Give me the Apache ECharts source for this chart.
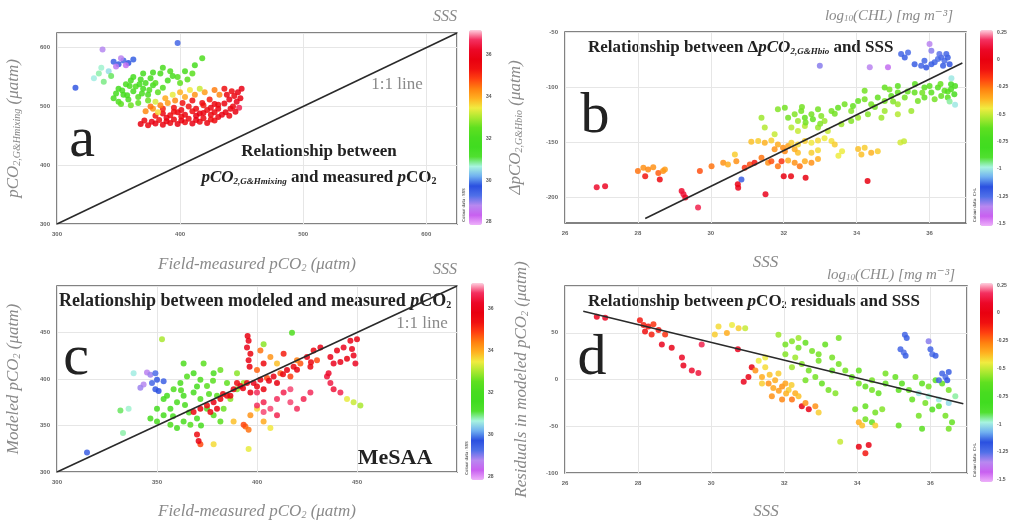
<!DOCTYPE html>
<html>
<head>
<meta charset="utf-8">
<script src="https://cdn.jsdelivr.net/npm/echarts@6/dist/echarts.min.js"></script>
<style>
  html, body { margin: 0; padding: 0; background: #fff; }
  #chart { width: 1012px; height: 521px; }
</style>
</head>
<body>
<div id="chart"></div>
<script>
// ---- data ----
// panel a: [field pCO2, G&H mixing pCO2, SSS]
const aPoints = [
  [368,470,35.8],[374,468,35.6],[380,471,35.9],[386,469,35.7],[392,472,35.6],[398,470,35.8],[404,473,35.5],[410,471,35.9],[416,474,35.6],[422,472,35.7],[428,476,35.5],
  [371,476,35.6],[377,474,35.9],[383,477,35.4],[389,475,35.7],[395,478,35.6],[401,476,35.8],[407,479,35.5],[413,477,35.7],[419,480,35.6],[425,478,35.4],[431,482,35.7],
  [380,484,35.3],[386,488,35.6],[392,485,35.5],[398,490,35.7],[404,486,35.6],[410,492,35.4],[416,488,35.8],[422,494,35.5],[428,490,35.6],[434,486,35.9],
  [386,496,35.2],[395,498,35.4],[401,494,35.6],[407,500,35.3],[413,496,35.5],[419,502,35.2],[425,498,35.6],[431,496,35.7],[437,490,35.8],[440,484,35.6],
  [436,505,35.7],[440,512,35.9],[444,518,35.6],[447,524,35.8],[442,526,35.5],[438,520,35.7],[446,508,36.0],[449,514,35.8],[443,500,35.6],[448,498,36.6],[450,530,35.9],[436,530,35.4],[441,496,35.7],
  [402,506,35.3],[410,510,35.4],[418,506,35.5],[424,512,35.2],[428,504,35.6],
  [389,481,35.7],[401,483,35.5],[413,484,35.8],[425,486,35.6],[395,491,35.4],[419,489,35.7],[431,503,35.5],[445,491,35.8],
  [372,492,34.3],[378,496,34.2],[384,502,34.4],[390,506,34.1],[396,510,34.3],[404,516,34.0],[412,520,34.2],[420,524,34.1],[428,528,34.4],[432,520,34.3],[388,514,34.0],[376,500,34.5],[400,524,33.9],
  [380,508,33.3],[394,520,33.4],[416,530,33.2],[408,528,33.5],[382,490,33.6],
  [346,514,32.0],[350,508,32.2],[354,520,31.9],[358,512,32.1],[362,526,32.0],[366,516,32.3],[370,530,31.8],[374,520,32.1],[378,536,32.0],[382,524,32.4],
  [350,530,31.9],[356,538,32.1],[360,544,32.0],[364,534,32.2],[368,546,31.9],[372,540,32.0],[376,548,32.1],[380,540,32.3],[386,532,32.2],[390,544,32.0],[394,552,32.1],
  [348,522,32.0],[352,504,32.4],[360,502,32.6],[366,506,32.5],[374,510,32.6],[362,550,31.9],[370,556,32.0],[384,556,32.1],[392,560,32.2],[398,550,32.3],
  [404,560,32.1],[410,556,32.4],[412,570,32.0],[418,582,32.2],[400,540,32.5],[406,546,32.4],[378,558,32.0],[386,566,32.1],
  [353,527,32.0],[359,535,32.1],[367,538,31.9],[375,528,32.2],[357,519,32.0],[369,522,32.1],
  [330,548,30.6],[334,556,30.8],[338,542,30.9],[342,560,30.5],[336,566,30.7],[344,552,31.0],
  [350,572,29.6],[354,578,29.4],[358,574,29.7],[346,576,29.5],[362,580,29.8],
  [348,568,28.6],[352,582,28.7],[356,570,28.5],
  [315,532,29.6],[398,608,29.4],[337,597,28.8]
];

// panel b: [SSS, delta pCO2 bio, log10 CHL]
const bPoints = [
  [26.87,-190.6,0.1],[27.1,-189.7,0.08],
  [28.0,-176,-0.25],[28.15,-173,-0.3],[28.28,-174.5,-0.28],[28.42,-172.4,-0.3],[28.56,-177.6,-0.22],[28.69,-176,-0.3],[28.74,-174.5,-0.32],[28.2,-180.6,-0.1],[28.6,-183.6,-0.05],
  [29.2,-194,0.1],[29.25,-197,0.12],[29.3,-200,0.08],[29.65,-209,0.15],
  [29.7,-176,-0.2],[30.02,-171.5,-0.25],[30.34,-168.5,-0.3],[30.47,-170,-0.35],[30.66,-160.9,-0.4],[30.7,-167,-0.3],[30.93,-173,-0.15],[31.07,-170,-0.2],[31.2,-168.5,-0.1],
  [31.39,-164,-0.25],[31.57,-168.5,-0.3],[31.66,-167,-0.2],[31.84,-171.5,-0.25],[31.94,-167,-0.15],[32.12,-166.4,-0.35],[32.3,-168.5,-0.3],[32.44,-171.5,-0.25],
  [32.58,-167,-0.35],[32.76,-168.5,-0.3],[32.94,-165,-0.35],[32.76,-159.4,-0.4],[32.39,-159.4,-0.38],[32.94,-157,-0.42],
  [30.75,-191,0.05],[30.74,-188,0.02],[31.5,-197,0.05],[32.0,-180.6,0.0],[32.2,-180.6,-0.02],[32.6,-182,0.0],[34.3,-185,0.0],
  [30.84,-183.6,-1.2],
  [31.11,-149.4,-0.38],[31.3,-148.8,-0.4],[31.48,-150.3,-0.36],[31.66,-148.2,-0.4],[31.84,-151.8,-0.35],[31.98,-154.8,-0.3],[32.12,-153.3,-0.33],[32.21,-150.3,-0.4],
  [32.39,-151.8,-0.42],[32.58,-148.8,-0.4],[32.76,-150.3,-0.44],[32.94,-148.2,-0.42],[33.12,-146.3,-0.45],[33.31,-148.8,-0.43],[33.4,-151.8,-0.4],
  [31.75,-156.3,-0.3],[32.03,-157.9,-0.28],[32.3,-156.3,-0.35],
  [34.04,-156,-0.38],[34.22,-154.8,-0.4],[34.4,-159.4,-0.36],[34.58,-157.9,-0.4],[34.13,-160.9,-0.38],
  [33.5,-162,-0.45],[33.6,-158,-0.45],[35.2,-150,-0.48],[35.3,-149,-0.5],
  [32.12,-127.6,-0.6],[32.3,-124.5,-0.58],[32.39,-130.6,-0.55],[32.48,-121.5,-0.6],[32.58,-127.6,-0.62],[32.76,-124.5,-0.6],[32.94,-120,-0.6],[33.03,-126,-0.58],
  [33.12,-130.6,-0.55],[33.31,-121.5,-0.6],[33.49,-118.5,-0.62],[33.67,-115.4,-0.6],[33.85,-121.5,-0.58],[34.04,-112.4,-0.62],[34.22,-110.9,-0.6],[34.4,-115.4,-0.6],
  [34.58,-109.4,-0.62],[34.77,-112.4,-0.6],[34.95,-107.9,-0.64],[35.13,-104.8,-0.62],[32.21,-136.6,-0.52],[32.39,-139.7,-0.5],[32.58,-135.1,-0.52],[32.94,-136.6,-0.55],
  [33.21,-139.7,-0.5],[33.58,-133.6,-0.55],[33.85,-130.6,-0.58],[34.04,-127.6,-0.55],[34.31,-124.5,-0.58],[34.68,-127.6,-0.55],[35.13,-124.5,-0.52],[35.5,-121.5,-0.55],
  [35.68,-112.4,-0.6],[35.86,-109.4,-0.62],[36.05,-104.8,-0.64],[36.23,-100.3,-0.66],[36.41,-103.3,-0.64],[36.59,-101.8,-0.7],[36.32,-107.9,-0.62],[36.14,-110.9,-0.6],
  [36.5,-109.4,-0.65],[36.68,-106.3,-0.72],[35.32,-109.4,-0.6],[35.59,-104.8,-0.62],[35.86,-100.3,-0.65],[35.13,-98.8,-0.64],[34.77,-100.3,-0.62],[34.22,-103.3,-0.6],
  [31.75,-142.7,-0.5],[31.48,-136.6,-0.52],[31.39,-127.6,-0.55],[31.84,-120,-0.58],[32.03,-118.5,-0.6],[36.59,-97.3,-0.75],[35.13,-115.4,-0.55],[34.77,-121.5,-0.55],
  [32.6,-132,-0.6],[32.8,-129,-0.62],[33.0,-133,-0.58],[32.5,-118,-0.6],[33.4,-124,-0.6],[33.9,-117,-0.62],[34.5,-118,-0.6],[35.0,-113,-0.58],
  [35.4,-104,-0.62],[35.8,-105,-0.6],[36.0,-99,-0.64],[36.3,-97,-0.62],[36.5,-104,-0.66],[36.7,-99,-0.7],[35.6,-97,-0.65],[34.9,-102,-0.6],
  [36.55,-113,-0.95],[36.7,-116,-1.0],[36.6,-92,-1.0],
  [35.22,-70,-1.22],[35.32,-73,-1.2],[35.41,-68.5,-1.24],[35.59,-79.1,-1.2],[35.77,-80.6,-1.22],[35.91,-82.1,-1.18],[36.0,-60.9,-1.35],[36.05,-67,-1.3],
  [36.14,-77.5,-1.22],[36.23,-74.5,-1.25],[36.32,-73,-1.22],[36.41,-76,-1.24],[36.5,-73,-1.2],[36.27,-70,-1.26],[36.46,-70,-1.22],[36.37,-80.6,-1.2],
  [36.55,-79.1,-1.18],[36.05,-79.1,-1.2],[35.86,-76,-1.22],
  [32.99,-80.6,-1.3],[34.36,-82,-1.35],[34.86,-82,-1.4]
];

// panel c: [field pCO2, modeled pCO2, SSS]
const cPoints = [
  [315,321,29.5],[333,342,30.8],[331.7,366,31.0],[335.8,368,30.7],
  [345,406.9,28.7],[346.7,404.5,28.9],[349.2,406.3,29.3],[350,399.3,29.6],[353.3,397.6,29.5],[343.3,394.1,28.8],[347.5,395.8,29.4],[349.2,388.9,29.6],[350.8,387.2,29.7],[341.7,390.6,28.9],[338.3,406.3,30.6],
  [352.5,442.7,33.0],
  [346.7,357.6,32.0],[350,354.2,32.1],[353.3,361.1,31.9],[356.7,350.7,32.2],[360,347.2,32.0],[363.3,354.2,32.1],[366.7,350.7,32.3],[370,357.6,32.0],
  [356.7,368.1,31.9],[360,375,32.1],[363.3,381.9,32.0],[358.3,388.9,32.2],[361.7,395.8,32.1],[365,402.8,32.3],[368.3,406.3,32.0],[371.7,399.3,32.2],
  [375,392.4,32.4],[378.3,406.3,32.1],[381.7,409.7,32.6],[368.3,385.4,32.0],[371.7,378.5,32.2],[375,368.1,32.1],[378.3,361.1,32.3],[381.7,354.2,32.4],
  [383.3,368.1,32.6],[386.7,378.5,32.8],[390,388.9,32.7],[393.3,395.8,32.9],[363.3,416.7,32.2],[373.3,416.7,32.4],[390,406.3,32.8],[355,381.9,32.0],
  [350,368.1,31.8],[353.3,378.5,31.9],[380,381.9,32.3],[385,395.8,32.5],
  [358,360,32.0],[366,364,32.1],[362,388,32.2],[370,392,32.0],[376,384,32.3],[364,372,32.1],[372,350,32.0],[378,398,32.4],
  [417.5,449.7,32.2],[403.3,437.5,32.8],
  [388.3,354.2,33.8],[396.7,361.1,34.2],[400,368.1,33.6],[403.3,354.2,34.0],[406.7,347.2,33.5],[394.2,349,34.6],[395.8,345.5,34.5],[393.3,350.7,34.8],
  [368.3,364.6,35.6],[371.7,368.1,35.8],[375,371.5,35.5],[378.3,375,35.9],[381.7,378.5,35.7],[385,381.9,35.6],[388.3,388.9,35.8],[391.7,392.4,35.9],
  [395,395.8,35.7],[398.3,395.8,36.0],[401.7,399.3,35.8],[405,401,34.8],[408.3,402.8,35.9],[411.7,406.3,34.6],[415,409.7,35.8],[418.3,413.2,35.6],
  [421.7,416.7,34.7],[425,423.6,35.9],[428.3,430.6,35.7],[431.7,434,36.0],[430,420.1,34.8],[426.7,413.2,35.6],[416.7,402.8,34.9],[410,395.8,35.8],
  [403.3,388.9,35.7],[396.7,385.4,35.9],[390,395.8,35.5],[386.7,381.9,35.7],[380,368.1,35.8],[376.7,364.6,35.6],
  [393,390,35.8],[400,392,35.6],[406,398,35.9],[413,405,35.7],[420,410,35.8],[427,418,35.6],[383,384,35.7],
  [395.3,446.2,35.8],[395.8,441,35.9],[395,434,36.0],[396.7,427.1,35.7],[395.8,420.1,35.9],[396.3,413.2,35.8],
  [401.7,430.6,34.5],[406.7,423.6,34.2],[410,416.7,33.8],[400,409.7,34.6],[413.3,427.1,35.2],[420,420.1,34.4],[403.3,416.7,35.5],
  [400,385.4,36.7],[403.3,375,36.6],[406.7,368.1,36.8],[410,378.5,36.7],[413.3,385.4,36.6],[416.7,375,36.8],[420,368.1,36.7],[423.3,378.5,36.6],
  [426.7,385.4,36.7],[403.3,364.6,36.8],[410,361.1,36.6],[400,371.5,36.7],[416.7,388.9,36.8],
  [436.7,423.6,36.0],[440,430.6,35.9],[443.3,434,36.1],[446.7,441,36.0],[450,442.7,35.9],[438.3,416.7,36.1],[441.7,418.4,36.0],[445,421.9,35.8],
  [448.3,425.3,36.0],[449.2,416.7,36.2],[447.5,432.3,36.0],
  [435,402.8,36.4],[436.7,395.8,36.5],[438.3,388.9,36.4],[441.7,385.4,36.6],[435.8,406.3,36.3],
  [445,378.5,33.4],[448.3,375,33.2],[451.7,371.5,33.0],
  [370,340.3,35.5],[371.7,329.9,34.8],[378.3,329.9,33.6],[395.8,324.7,33.4],[370.8,333.3,35.8]
];

// panel d: [SSS, residual pCO2, log10 CHL]
const dPoints = [
  [26.87,67,0.05],[27.1,66,0.08],
  [28.05,63.5,-0.1],[28.15,58.3,-0.12],[28.28,56.6,-0.1],[28.42,59,-0.15],[28.19,51.4,-0.08],[28.37,48,-0.12],[28.56,53,-0.1],[28.74,48,-0.15],
  [28.65,37.5,0.05],[28.92,34,0.03],[29.2,23.6,0.08],[29.24,15,0.05],[29.47,9.7,0.1],[29.65,7,0.12],[29.74,37.5,0.15],
  [30.1,48,-0.4],[30.43,49.7,-0.35],[30.57,58.3,-0.45],[30.75,54.9,-0.4],[30.93,54.9,-0.5],[30.2,56.6,-0.42],
  [30.73,32.3,0.05],[30.89,-2.4,0.05],[31.02,2.8,0.02],[31.11,13.2,0.0],
  [31.21,9.7,-0.3],[31.39,2.8,-0.35],[31.57,-4.2,-0.3],[31.75,-0.7,-0.35],[31.94,-7.6,-0.3],[32.12,-11.1,-0.4],[32.3,-14.6,-0.35],[32.03,-4.2,-0.33],
  [31.84,6.3,-0.4],[31.48,13.2,-0.42],[31.3,20.1,-0.45],[31.66,-18,-0.3],[31.94,-21.5,-0.28],[32.21,-21.5,-0.25],[32.48,-28.5,0.0],[32.67,-31.9,0.02],
  [32.85,-28.5,-0.3],[32.94,-35.4,-0.4],[32.39,-18,-0.38],[32.58,-25,-0.3],[31.48,23.6,-0.45],[31.39,-4.2,-0.4],
  [31.6,5,-0.38],[31.85,-12,-0.32],[32.05,-15,-0.36],[32.2,-6,-0.4],[31.7,-9,-0.34],
  [31.84,47.9,-0.55],[32.03,37.5,-0.6],[32.21,41,-0.58],[32.39,34,-0.6],[32.58,39.2,-0.62],[32.76,30.6,-0.6],[32.94,27.1,-0.6],[32.3,23.6,-0.55],
  [32.48,16.7,-0.58],[32.67,9.7,-0.6],[32.85,2.8,-0.6],[33.03,-4.2,-0.62],[33.21,-11.1,-0.6],[33.4,-14.6,-0.58],[32.21,13.2,-0.55],[32.58,-0.7,-0.6],
  [33.31,9.7,-0.62],[33.49,16.7,-0.6],[33.67,9.7,-0.6],[33.85,2.8,-0.62],[34.04,-4.2,-0.6],[34.22,-7.6,-0.62],[34.4,-11.1,-0.6],[34.58,-14.6,-0.62],
  [33.31,23.6,-0.6],[33.12,37.5,-0.62],[33.49,44.4,-0.6],[32.39,44.4,-0.55],[32.03,27.1,-0.58],[32.94,20.1,-0.6],[34.04,9.7,-0.62],[34.4,-0.7,-0.6],
  [34.77,-4.2,-0.62],[35.13,-11.1,-0.64],[35.04,2.8,-0.62],[34.77,6.3,-0.6],
  [33.94,-31.9,-0.6],[34.22,-28.5,-0.62],[34.49,-35.4,-0.6],[34.68,-31.9,-0.58],[34.22,-42.4,-0.6],[34.4,-45.8,-0.62],
  [34.04,-45.8,-0.35],[34.13,-49.3,-0.38],[34.49,-49.3,-0.4],
  [34.04,-71.9,0.0],[34.31,-70.1,0.02],[34.22,-78.8,-0.1],[33.53,-66.7,-0.5],
  [35.22,-4.2,-0.65],[35.41,-11.1,-0.62],[35.59,2.8,-0.6],[35.77,-4.2,-0.63],[35.95,-7.6,-0.6],[36.14,-0.7,-0.65],[36.32,-4.2,-0.62],[36.5,-11.1,-0.6],
  [35.5,-21.5,-0.62],[35.86,-25,-0.6],[36.23,-28.5,-0.65],[36.41,-38.8,-0.6],[36.59,-45.8,-0.62],[36.5,-52.8,-0.6],[36.05,-32,-0.68],[35.68,-38.8,-0.6],
  [35.13,-49.3,-0.62],[35.77,-52.8,-0.65],
  [35.68,-14.6,-1.0],[35.95,-18,-0.98],[36.23,-21.5,-1.0],[36.5,-25,-1.02],[36.68,-18,-0.95],
  [35.3,47.9,-1.22],[35.35,44.4,-1.2],[35.18,32.3,-1.22],[35.27,28.8,-1.25],[35.32,25.3,-1.2],[35.95,41,-1.3],[36.0,32.3,-1.22],[36.05,27.1,-1.25],
  [36.14,25.3,-1.2],[36.32,6.3,-1.22],[36.41,2.8,-1.25],[36.5,8,-1.2],[36.23,-0.7,-1.22],[36.46,-0.7,-1.18]
];

// reference / fitted lines
const oneToOneA = [[300, 300], [625, 625]];
const oneToOneC = [[300, 300], [500, 500]];
const fitB = [[28.2, -219], [36.9, -78]];
const fitD = [[26.5, 73], [36.9, -26]];

// ticks
const pco2TicksA = [300, 400, 500, 600];
const pco2TicksC = [300, 350, 400, 450, 500];
const sssTicks = [26, 28, 30, 32, 34, 36];
const bYTicks = [-200, -150, -100, -50];
const dYTicks = [-100, -50, 0, 50, 100];
const sssBarTicks = [28, 30, 32, 34, 36];
const chlBarTicks = [-1.5, -1.25, -1, -0.75, -0.5, -0.25, 0, 0.25];

// ---- styling ----
const SERIF = '"Liberation Serif", "DejaVu Serif", serif';
const rainbow = ['#eeb0fa','#c860f0','#b888f0','#5070e8','#2a50e0','#70b0f0','#a8f4e0','#50e030','#40dc20','#48dc20',
  '#60e020','#a8e830','#f0ec40','#ffb020','#ff8010','#ff4010','#f01010','#e80010','#ec0828','#f43060','#ffd0e0'];

const nameStyle = {
  fontFamily: SERIF, fontStyle: 'italic', fontSize: 17, color: '#8a8a8a',
  rich: { s: { fontFamily: SERIF, fontStyle: 'italic', fontSize: 10, color: '#8a8a8a', verticalAlign: 'bottom' } }
};

function mainAxis(grid, opts) {
  return Object.assign({
    type: 'value',
    gridIndex: grid,
    axisLine: { show: false },
    axisTick: { show: false },
    splitLine: { lineStyle: { color: '#e6e6e6', width: 1 } },
    axisLabel: { fontSize: 6, color: '#666', fontWeight: 'bold', margin: 7, showMaxLabel: false },
    nameLocation: 'middle',
    nameTextStyle: nameStyle
  }, opts);
}

function barAxis(grid, min, max, ticks) {
  return {
    type: 'value', gridIndex: grid, position: 'right', min: min, max: max,
    axisLine: { show: false },
    axisTick: { show: true, length: 2, lineStyle: { color: '#888' }, customValues: ticks },
    splitLine: { show: false },
    axisLabel: { fontSize: 5, color: '#555', fontWeight: 'bold', margin: 4, customValues: ticks,
      formatter: v => String(v) }
  };
}

function hiddenX(grid) {
  return { type: 'value', gridIndex: grid, show: false, min: 0, max: 1 };
}

function scatter(idx, data) {
  return { type: 'scatter', xAxisIndex: idx, yAxisIndex: idx, data: data, symbolSize: 6,
    itemStyle: { opacity: 0.85 }, silent: true };
}

function refLine(idx, data) {
  return { type: 'line', xAxisIndex: idx, yAxisIndex: idx, data: data, showSymbol: false, silent: true,
    z: 5, lineStyle: { color: '#2a2a2a', width: 1.6 } };
}

function colorBar(series, min, max, left, top, h) {
  return { type: 'continuous', seriesIndex: series, dimension: 2, min: min, max: max,
    left: left, top: top, itemWidth: 13, itemHeight: h, padding: 0,
    calculable: false, hoverLink: false, inRange: { color: rainbow } };
}

function txt(x, y, text, size, extra) {
  return { type: 'text', x: x, y: y, silent: true,
    style: Object.assign({ text: text, fontFamily: SERIF, fontSize: size, fill: '#222',
      align: 'center', verticalAlign: 'middle' }, extra || {}) };
}

function makeTitleRich(size) {
  return {
    b: { fontFamily: SERIF, fontWeight: 'bold', fontSize: size, fill: '#222' },
    bi: { fontFamily: SERIF, fontWeight: 'bold', fontStyle: 'italic', fontSize: size, fill: '#222' },
    s: { fontFamily: SERIF, fontWeight: 'bold', fontStyle: 'italic', fontSize: 9, fill: '#222', verticalAlign: 'bottom' },
    n: { fontFamily: SERIF, fontWeight: 'bold', fontSize: 10, fill: '#222', verticalAlign: 'bottom' }
  };
}
const barTitleRich = {
  t: { fontFamily: SERIF, fontStyle: 'italic', fontSize: 15, fill: '#8a8a8a' },
  s: { fontFamily: SERIF, fontStyle: 'italic', fontSize: 9, fill: '#8a8a8a', verticalAlign: 'bottom' }
};

const chart = echarts.init(document.getElementById('chart'));

chart.setOption({
  backgroundColor: '#fff',
  animation: false,
  grid: [
    { left: 57, top: 33, width: 400, height: 191, show: true, borderColor: '#5a5a5a', borderWidth: 1.5 },
    { left: 565, top: 32, width: 401, height: 191, show: true, borderColor: '#5a5a5a', borderWidth: 1.5 },
    { left: 57, top: 286, width: 400, height: 192, show: true, borderColor: '#5a5a5a', borderWidth: 1.5 },
    { left: 565, top: 286, width: 402, height: 192, show: true, borderColor: '#5a5a5a', borderWidth: 1.5 },
    { left: 469, top: 30, width: 13, height: 195 },
    { left: 980, top: 30, width: 13, height: 196 },
    { left: 471, top: 283, width: 13, height: 197 },
    { left: 980, top: 283, width: 13, height: 199 }
  ],
  xAxis: [
    mainAxis(0, { min: 300, max: 625, interval: 100, name: 'Field-measured pCO{s|2} (μatm)', nameGap: 32 }),
    mainAxis(1, { min: 26, max: 37, interval: 2, name: 'SSS', nameGap: 31 }),
    mainAxis(2, { min: 300, max: 500, interval: 50, name: 'Field-measured pCO{s|2} (μatm)', nameGap: 31 }),
    mainAxis(3, { min: 26, max: 37, interval: 2, name: 'SSS', nameGap: 30 }),
    hiddenX(4), hiddenX(5), hiddenX(6), hiddenX(7)
  ],
  yAxis: [
    mainAxis(0, { min: 300, max: 625, interval: 100, name: 'pCO{s|2,G&Hmixing} (μatm)', nameGap: 35 }),
    mainAxis(1, { min: -223, max: -50, name: 'ΔpCO{s|2,G&Hbio} (μatm)', nameGap: 41,
      axisLabel: { fontSize: 6, color: '#666', fontWeight: 'bold', margin: 7, customValues: bYTicks },
      axisTick: { show: false, customValues: bYTicks } }),
    mainAxis(2, { min: 300, max: 500, interval: 50, name: 'Modeled pCO{s|2} (μatm)', nameGap: 35 }),
    mainAxis(3, { min: -100, max: 100, interval: 50, name: 'Residuals in modeled pCO{s|2} (μatm)', nameGap: 35 }),
    barAxis(4, 27.85, 37.2, sssBarTicks),
    barAxis(5, -1.52, 0.27, chlBarTicks),
    barAxis(6, 27.85, 37.2, sssBarTicks),
    barAxis(7, -1.52, 0.27, chlBarTicks)
  ],
  visualMap: [
    colorBar(0, 27.85, 37.2, 469, 30, 195),
    colorBar(2, -1.52, 0.27, 980, 30, 196),
    colorBar(4, 27.85, 37.2, 471, 283, 197),
    colorBar(6, -1.52, 0.27, 980, 283, 199)
  ],
  series: [
    scatter(0, aPoints), refLine(0, oneToOneA),
    scatter(1, bPoints), refLine(1, fitB),
    scatter(2, cPoints), refLine(2, oneToOneC),
    scatter(3, dPoints), refLine(3, fitD)
  ],
  graphic: [
    // panel letters
    txt(82, 141, 'a', 58),
    txt(595, 117, 'b', 58),
    txt(76, 359, 'c', 58),
    txt(592, 359, 'd', 58),
    // panel a
    txt(397, 85, '1:1 line', 17, { fill: '#8a8a8a' }),
    txt(319, 152, 'Relationship between', 17, { fontWeight: 'bold' }),
    txt(319, 178, '{bi|pCO}{s|2,G&Hmixing}{b| and measured }{bi|p}{b|CO}{n|2}', 17, { rich: makeTitleRich(17) }),
    // panel b
    txt(588, 48, '{b|Relationship between Δ}{bi|pCO}{s|2,G&Hbio}{b| and SSS}', 17, { rich: makeTitleRich(17), align: 'left' }),
    // panel c
    txt(59, 301, '{b|Relationship between modeled and measured }{bi|p}{b|CO}{n|2}', 18, { rich: makeTitleRich(18), align: 'left' }),
    txt(422, 324, '1:1 line', 17, { fill: '#8a8a8a' }),
    txt(395, 458, 'MeSAA', 22, { fontWeight: 'bold' }),
    // panel d
    txt(588, 302, '{b|Relationship between }{bi|p}{b|CO}{n|2}{b| residuals and SSS}', 17, { rich: makeTitleRich(17), align: 'left' }),
    // colour bar titles
    txt(445, 17, 'SSS', 16, { fontStyle: 'italic', fill: '#8a8a8a' }),
    txt(445, 270, 'SSS', 16, { fontStyle: 'italic', fill: '#8a8a8a' }),
    txt(889, 16, '{t|log}{s|10}{t|(CHL) [mg m⁻³]}', 15, { rich: barTitleRich }),
    txt(891, 275, '{t|log}{s|10}{t|(CHL) [mg m⁻³]}', 15, { rich: barTitleRich }),
    // tiny colour-data captions
    Object.assign(txt(464, 205, 'Colour data: SSS', 4, { fontFamily: 'DejaVu Sans' }), { rotation: Math.PI / 2 }),
    Object.assign(txt(975, 205, 'Colour data: CHL', 4, { fontFamily: 'DejaVu Sans' }), { rotation: Math.PI / 2 }),
    Object.assign(txt(467, 458, 'Colour data: SSS', 4, { fontFamily: 'DejaVu Sans' }), { rotation: Math.PI / 2 }),
    Object.assign(txt(975, 460, 'Colour data: CHL', 4, { fontFamily: 'DejaVu Sans' }), { rotation: Math.PI / 2 })
  ]
});
</script>
</body>
</html>
